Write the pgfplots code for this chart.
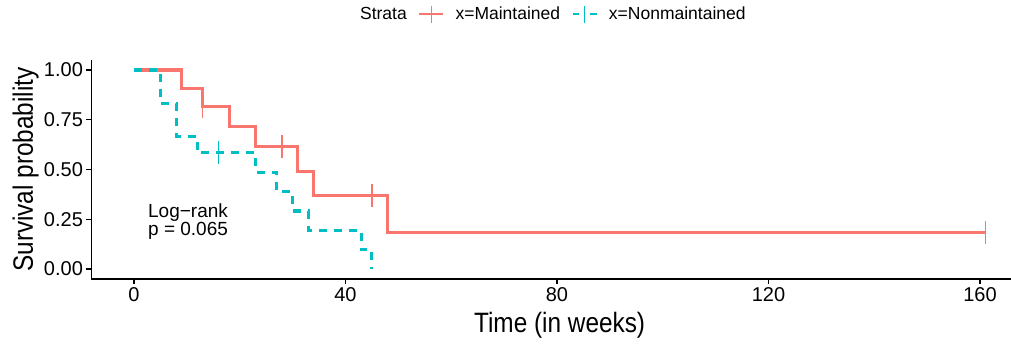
\documentclass[border=0pt]{standalone}
\usepackage{fontspec}
\setmainfont{Liberation Sans}
\usepackage{pgfplots}
\pgfplotsset{compat=1.18}
\definecolor{cred}{HTML}{F8766D}
\definecolor{ccyan}{HTML}{00BFC4}
\begin{document}
\begin{tikzpicture}
\useasboundingbox (0,0) rectangle (1011bp,345bp);
\begin{axis}[
  at={(91.4bp,66.05bp)}, anchor=south west,
  scale only axis, width=936.4bp, height=218.9bp,
  xmin=-8.05, xmax=169.05, ymin=-0.05, ymax=1.05,
  axis x line*=bottom, axis y line*=left,
  axis line style={-, line width=1.3bp, black},
  xtick={0,40,80,120,160}, ytick={0,0.25,0.5,0.75,1},
  yticklabel style={/pgf/number format/.cd, fixed, fixed zerofill, precision=2},
  /pgf/number format/assume math mode=true,
  tick align=outside, major tick length=5bp,
  tick style={black, line width=1.3bp},
  ticklabel style={font=\fontsize{20bp}{24bp}\selectfont, text=black},
  xlabel={\scalebox{0.87}[1]{Time (in weeks)}},
  ylabel={\scalebox{0.87}[1]{Survival probability}},
  xlabel style={at={(axis description cs:0.5,-0.2466)}, anchor=base, font=\fontsize{28bp}{30bp}\selectfont},
  ylabel style={at={(axis description cs:-0.0624,0.5)}, anchor=base, font=\fontsize{28bp}{30bp}\selectfont},
  legend style={at={(axis description cs:0.488,1.21)}, anchor=center, draw=none, fill=none,
    font=\fontsize{17.5bp}{20bp}\selectfont,
    /tikz/every even column/.append style={column sep=9bp},
    /tikz/every odd column/.append style={column sep=9bp}},
  legend columns=-1,
]
\addlegendimage{empty legend}
\addlegendentry{Strata}
\addlegendimage{legend image code/.code={\draw[cred, line width=2.8bp] (0bp,0bp)--(24bp,0bp); \draw[cred, line width=1.3bp] (12bp,-8.5bp)--(12bp,8.5bp);}}
\addlegendentry{x=Maintained}
\addlegendimage{legend image code/.code={\draw[ccyan, line width=2.8bp] (0bp,0bp)--(6bp,0bp); \draw[ccyan, line width=2.8bp] (17bp,0bp)--(24bp,0bp); \draw[ccyan, line width=1.3bp] (12bp,-8.5bp)--(12bp,8.5bp);}}
\addlegendentry{x=Nonmaintained}

\addplot[cred, line width=3.1bp, const plot, forget plot] coordinates {(0,1) (9,0.9091) (13,0.8182) (18,0.7159) (23,0.6136) (31,0.4909) (34,0.3682) (48,0.1841) (161,0.1841)};
\addplot[ccyan, line width=3.1bp, const plot, dash pattern=on 8bp off 7bp, forget plot] coordinates {(0,1) (5,0.8333) (8,0.6667) (12,0.5833) (23,0.4861) (27,0.3889) (30,0.2917) (33,0.1944) (43,0.0972) (45,0)};
\addplot[only marks, mark=|, mark size=11.5bp, cred, mark options={line width=1.3bp, solid}, forget plot] coordinates {(13,0.8182) (28,0.6136) (45,0.3682) (161,0.1841)};
\addplot[only marks, mark=|, mark size=11.5bp, ccyan, mark options={line width=1.3bp, solid}, forget plot] coordinates {(16,0.5833)};

\node[anchor=base west, font=\fontsize{19bp}{22bp}\selectfont, inner sep=0pt] at (axis cs:2.65,0.261) {Log−rank};
\node[anchor=base west, font=\fontsize{19bp}{22bp}\selectfont, inner sep=0pt] at (axis cs:2.65,0.167) {p = 0.065};
\end{axis}
\end{tikzpicture}
\end{document}
